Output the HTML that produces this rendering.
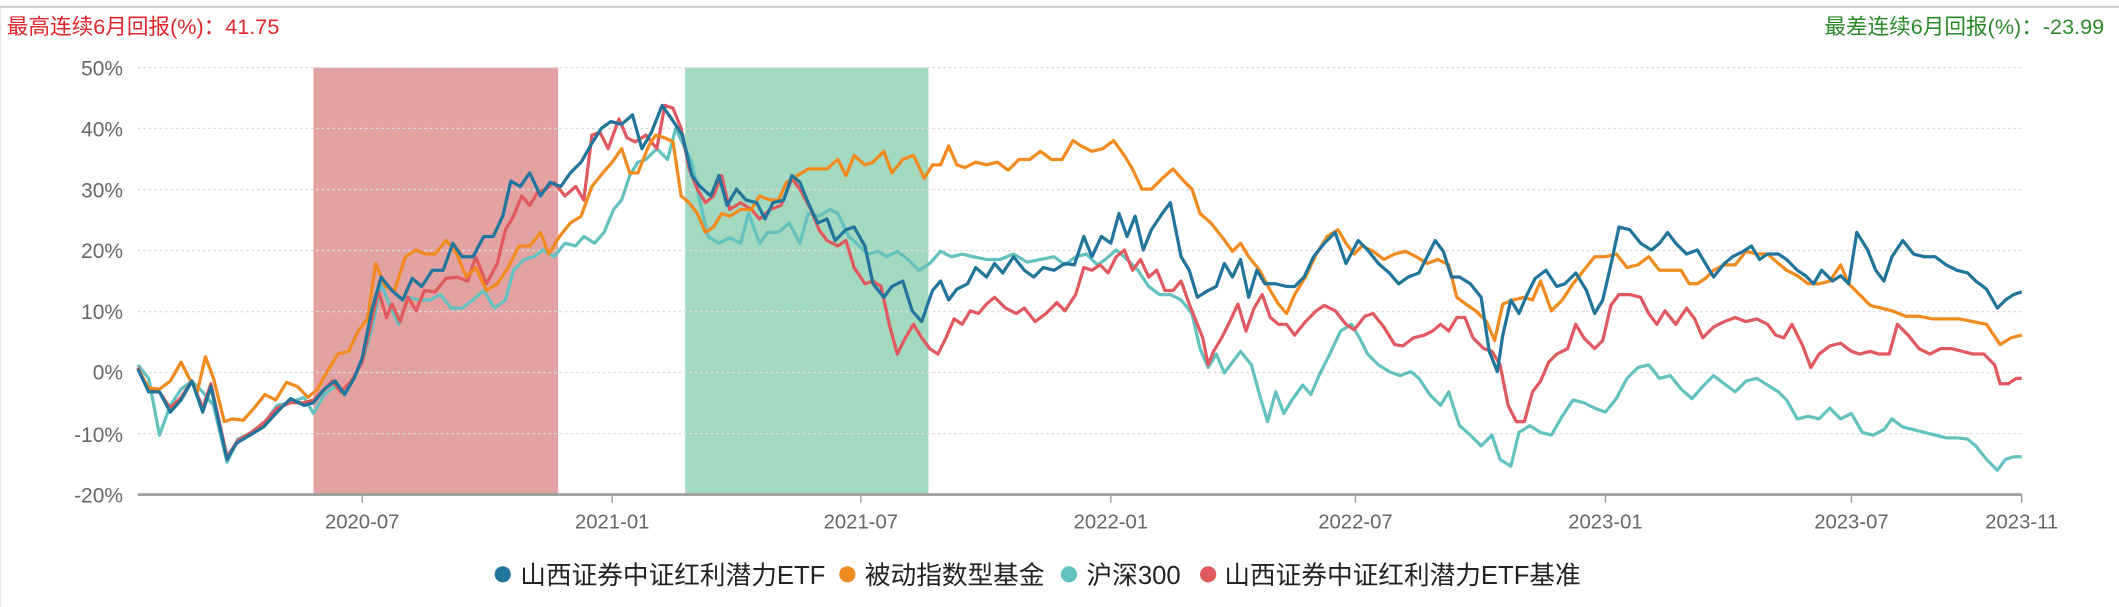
<!DOCTYPE html>
<html><head><meta charset="utf-8"><style>
html,body{margin:0;padding:0;background:#fff;}
svg{display:block;}
text{font-family:"Liberation Sans","Noto Sans CJK SC",sans-serif;}
</style></head><body>
<svg width="2119" height="607" viewBox="0 0 1568 449.2" preserveAspectRatio="none" xmlns="http://www.w3.org/2000/svg">
<line x1="0" y1="5" x2="1568" y2="5" stroke="#ccc" stroke-width="1.5"/>
<line x1="0.5" y1="5" x2="0.5" y2="449" stroke="#e6e6e6" stroke-width="1"/>
<text x="5" y="25" font-size="16" fill="#e0262b">最高连续6月回报(%)：41.75</text>
<text x="1557" y="25" font-size="16" fill="#2a8a2a" text-anchor="end">最差连续6月回报(%)：-23.99</text>
<rect x="232" y="50" width="181" height="316" fill="#e2a2a2"/>
<rect x="507" y="50" width="180" height="316" fill="#a3d8c1"/>
<g stroke="#ddd" stroke-width="1" stroke-dasharray="2,2">
<line x1="102" y1="50" x2="1496" y2="50"/><line x1="102" y1="95.1" x2="1496" y2="95.1"/><line x1="102" y1="140.3" x2="1496" y2="140.3"/><line x1="102" y1="185.4" x2="1496" y2="185.4"/><line x1="102" y1="230.6" x2="1496" y2="230.6"/><line x1="102" y1="275.7" x2="1496" y2="275.7"/><line x1="102" y1="320.9" x2="1496" y2="320.9"/>
</g>
<g font-size="15.5" fill="#666" text-anchor="end">
<text x="91" y="56">50%</text><text x="91" y="101">40%</text><text x="91" y="146">30%</text><text x="91" y="191">20%</text><text x="91" y="236">10%</text><text x="91" y="281">0%</text><text x="91" y="327">-10%</text><text x="91" y="372">-20%</text>
</g>
<line x1="102" y1="366" x2="1496" y2="366" stroke="#999" stroke-width="2"/>
<g stroke="#999" stroke-width="1">
<line x1="268" y1="366" x2="268" y2="372"/><line x1="453" y1="366" x2="453" y2="372"/><line x1="637" y1="366" x2="637" y2="372"/><line x1="822" y1="366" x2="822" y2="372"/><line x1="1003" y1="366" x2="1003" y2="372"/><line x1="1188" y1="366" x2="1188" y2="372"/><line x1="1370" y1="366" x2="1370" y2="372"/><line x1="1496" y1="366" x2="1496" y2="372"/>
</g>
<g font-size="15" fill="#666" text-anchor="middle">
<text x="268" y="391">2020-07</text><text x="453" y="391">2021-01</text><text x="637" y="391">2021-07</text><text x="822" y="391">2022-01</text><text x="1003" y="391">2022-07</text><text x="1188" y="391">2023-01</text><text x="1370" y="391">2023-07</text><text x="1496" y="391">2023-11</text>
</g>
<g fill="none" stroke-width="2.4" stroke-linejoin="round">
<polyline stroke="#63c2c0" points="102,270 110,280 118,322 126,300 134,288 142,282 150,290 158,300 168,342 176,325 186,320 195,314 205,300 215,298 225,294 232,306 240,292 248,286 255,290 262,280 270,262 276,240 282,210 288,225 295,240 302,220 310,222 318,222 326,218 334,228 342,228 350,222 358,215 366,228 374,222 380,200 388,192 395,190 402,185 410,190 418,180 426,182 432,175 440,180 447,172 454,155 460,148 466,130 472,120 478,118 486,110 494,118 500,95 506,108 512,120 518,150 524,175 532,180 540,176 548,180 554,158 562,180 568,172 576,172 584,165 592,180 598,158 606,160 614,155 620,158 628,175 636,182 642,188 650,186 656,190 664,186 672,192 680,200 688,195 696,186 704,190 712,188 720,190 730,192 740,192 750,188 760,194 770,192 780,190 788,196 796,190 804,188 812,196 818,192 826,185 834,192 842,200 850,212 858,218 866,218 874,222 882,232 888,258 894,272 900,262 906,276 912,268 918,260 926,270 932,292 938,312 944,290 950,306 956,296 964,285 970,292 976,278 984,262 992,245 1000,240 1006,250 1012,262 1020,270 1028,275 1036,278 1044,275 1050,280 1058,292 1066,300 1072,290 1080,315 1088,322 1096,330 1104,322 1110,340 1118,345 1124,320 1132,315 1140,320 1148,322 1156,308 1164,296 1172,298 1180,302 1188,305 1196,295 1204,280 1212,272 1220,270 1228,280 1236,278 1244,288 1252,295 1260,286 1268,278 1276,284 1284,290 1292,282 1300,280 1308,285 1316,290 1322,296 1330,310 1338,308 1346,310 1354,302 1362,310 1370,306 1378,320 1386,322 1394,318 1400,310 1408,316 1416,318 1424,320 1432,322 1440,324 1448,324 1456,325 1462,330 1470,340 1478,348 1484,340 1490,338 1496,338"/>
<polyline stroke="#e0595e" points="102,272 110,288 118,290 126,302 134,294 142,282 150,302 156,284 168,338 176,326 186,320 196,312 205,302 215,298 225,298 232,296 238,290 246,282 252,290 260,282 268,268 274,242 280,215 286,235 290,225 296,238 302,220 308,230 314,215 322,216 330,206 338,205 346,208 352,190 360,210 368,195 374,170 380,160 386,145 392,152 398,142 404,140 410,135 418,145 426,138 432,148 438,100 444,98 450,110 458,88 464,102 470,105 478,100 486,110 492,78 498,80 504,95 510,125 516,140 522,150 528,145 534,130 540,155 548,150 556,155 562,162 570,155 578,152 586,132 592,140 600,155 606,170 612,178 620,182 626,178 632,198 640,210 646,208 652,212 658,240 664,262 670,250 676,240 682,250 688,258 694,262 700,250 706,236 712,240 718,230 724,232 730,225 736,220 744,228 752,232 758,228 766,238 774,232 782,224 788,230 796,218 802,198 808,200 814,196 820,202 826,190 832,185 838,200 844,192 850,205 856,200 862,215 868,215 874,208 880,225 886,240 890,250 894,270 898,260 904,250 910,238 916,225 922,245 928,228 934,218 940,235 946,240 952,240 958,248 966,238 974,230 980,226 988,230 996,240 1002,244 1010,234 1016,232 1024,242 1032,255 1038,256 1046,250 1054,248 1060,245 1066,240 1072,245 1078,235 1084,235 1090,250 1098,258 1104,260 1110,270 1116,300 1122,312 1128,312 1134,290 1140,282 1146,268 1152,262 1160,258 1166,240 1172,250 1180,258 1186,252 1192,226 1198,218 1206,218 1214,220 1220,232 1226,240 1232,230 1240,240 1248,228 1254,236 1260,250 1268,242 1276,238 1284,235 1292,238 1300,236 1308,240 1314,248 1320,250 1326,240 1334,256 1340,272 1346,262 1354,256 1362,254 1370,260 1376,262 1384,260 1390,262 1398,262 1404,240 1412,248 1420,258 1428,262 1436,258 1444,258 1452,260 1460,262 1468,262 1476,270 1480,284 1486,284 1492,280 1496,280"/>
<polyline stroke="#f28b1f" points="102,273 110,287 118,288 126,282 134,268 140,280 146,290 152,264 158,280 166,312 172,310 180,311 188,302 196,292 204,296 212,283 220,286 228,294 235,288 242,275 250,262 258,260 265,245 272,236 278,195 285,212 292,215 300,190 308,185 315,188 322,188 330,178 338,188 345,205 352,198 360,215 368,210 376,198 384,182 392,182 400,172 406,188 414,175 422,165 430,160 438,138 446,128 453,120 460,110 466,128 472,128 480,108 485,100 492,102 498,105 504,145 510,150 516,158 522,172 528,168 534,158 540,160 548,155 556,155 562,145 570,148 576,148 582,135 590,130 598,125 605,125 612,125 620,118 626,130 632,115 640,122 646,120 654,112 660,128 668,118 676,115 684,132 690,122 696,122 702,108 708,122 714,124 722,120 730,122 738,120 746,126 754,118 762,118 770,112 778,118 786,118 794,104 800,108 808,112 816,110 824,104 832,115 838,125 845,140 852,140 860,132 868,125 876,134 882,140 888,158 896,165 904,175 912,186 918,180 924,190 932,200 940,215 946,225 952,232 958,218 966,205 974,188 982,175 990,170 996,180 1002,188 1008,182 1016,186 1024,192 1032,188 1040,186 1048,190 1056,195 1064,192 1072,196 1078,220 1086,226 1092,230 1100,238 1106,252 1112,225 1120,222 1128,220 1134,222 1140,208 1148,230 1156,222 1164,210 1172,200 1180,190 1188,190 1196,188 1204,198 1212,196 1220,190 1228,200 1236,200 1244,200 1250,210 1256,210 1262,206 1268,200 1276,196 1284,196 1292,186 1300,188 1308,188 1316,195 1322,200 1330,204 1338,210 1346,210 1354,208 1362,196 1368,210 1376,218 1384,226 1392,228 1400,230 1410,234 1420,234 1430,236 1440,236 1450,236 1460,238 1470,240 1480,255 1488,250 1496,248"/>
<polyline stroke="#21759b" points="102,273 110,290 118,290 126,305 134,296 142,282 150,305 156,286 168,340 175,328 185,322 195,316 205,305 215,295 225,300 232,298 240,288 248,282 255,292 262,280 268,265 275,230 282,205 290,215 298,222 305,206 312,212 320,200 328,200 335,180 342,190 350,190 358,175 365,175 372,160 378,134 385,138 392,128 400,145 407,135 415,138 422,128 430,120 438,106 445,95 452,90 460,92 468,85 475,110 482,98 490,78 497,88 505,100 512,130 518,138 526,145 532,130 538,152 545,140 552,148 560,150 566,162 572,150 580,148 586,130 592,135 598,150 605,165 612,162 618,178 626,170 632,168 640,182 646,210 654,220 660,212 668,208 675,230 682,238 690,215 696,208 702,222 708,214 716,210 722,198 730,205 736,195 742,202 750,190 758,200 765,205 772,198 780,200 788,195 795,196 802,175 808,190 815,175 822,180 828,158 834,175 840,160 846,185 852,170 860,158 866,150 874,190 880,200 886,220 894,215 900,212 906,195 912,205 918,192 924,220 930,200 936,210 944,210 952,212 958,212 965,205 972,190 980,180 988,172 996,195 1005,178 1012,185 1020,195 1028,202 1035,210 1042,205 1050,202 1056,190 1062,178 1068,186 1074,205 1080,205 1088,210 1096,220 1102,260 1108,275 1112,248 1118,222 1124,232 1130,218 1136,206 1144,200 1152,212 1158,210 1166,202 1174,215 1180,232 1186,222 1192,196 1198,168 1206,170 1214,180 1222,185 1228,180 1234,172 1240,180 1248,188 1256,185 1262,195 1268,205 1276,195 1282,190 1290,186 1296,182 1302,192 1308,188 1316,188 1322,192 1330,200 1336,204 1342,210 1348,200 1356,208 1362,204 1368,210 1374,172 1382,185 1388,200 1394,208 1400,190 1408,178 1416,188 1424,190 1432,190 1440,196 1448,200 1456,202 1462,208 1470,214 1478,228 1484,222 1490,218 1496,216"/>
</g>
<g font-size="19" fill="#222">
<circle cx="372" cy="425" r="6" fill="#21759b"/><text x="385" y="432">山西证券中证红利潜力ETF</text>
<circle cx="627" cy="425" r="6" fill="#f28b1f"/><text x="640" y="432">被动指数型基金</text>
<circle cx="791" cy="425" r="6" fill="#63c2c0"/><text x="804" y="432">沪深300</text>
<circle cx="894" cy="425" r="6" fill="#e0595e"/><text x="906" y="432">山西证券中证红利潜力ETF基准</text>
</g>
</svg>
</body></html>
